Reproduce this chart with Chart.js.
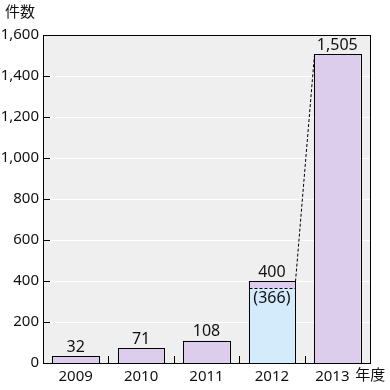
<!DOCTYPE html>
<html>
<head>
<meta charset="utf-8">
<script src="https://cdn.jsdelivr.net/npm/chart.js@4"></script>
<style>
  body { margin: 0; background: #fff; }
  #wrap { width: 390px; height: 390px; }
</style>
</head>
<body>
<div id="wrap"><canvas id="chart" width="390" height="390"></canvas></div>
<script>
const years = ['2009', '2010', '2011', '2012', '2013'];
const baseCounts = [32, 71, 108, 366, 1505];
const extraCounts = [0, 0, 0, 34, 0];
const totals = [32, 71, 108, 400, 1505];
const yTicks = [0, 200, 400, 600, 800, 1000, 1200, 1400, 1600];

const purple = '#dccdec';
const blue = '#d3ebfb';
const fontFam = '"Noto Sans", "Noto Sans CJK JP", sans-serif';

const fmt = v => v.toLocaleString('en-US');
const crisp = v => Math.round(v) + 0.5;

const decor = {
  id: 'decor',
  beforeDraw(chart) {
    const { ctx, chartArea: a, scales: { y } } = chart;
    ctx.save();
    ctx.fillStyle = '#efefef';
    ctx.fillRect(a.left, a.top, a.right - a.left, a.bottom - a.top);
    ctx.strokeStyle = '#fff';
    ctx.lineWidth = 1;
    yTicks.forEach(t => {
      const py = crisp(y.getPixelForValue(t));
      ctx.beginPath(); ctx.moveTo(a.left, py); ctx.lineTo(a.right, py); ctx.stroke();
    });
    ctx.restore();
  },
  afterDatasetsDraw(chart) {
    const { ctx, chartArea: a, scales: { x, y } } = chart;
    const base = chart.getDatasetMeta(0).data;
    const top = chart.getDatasetMeta(1).data;
    ctx.save();
    ctx.strokeStyle = '#000';
    ctx.lineWidth = 1;
    // bar outlines (crisp)
    base.forEach((b, i) => {
      const h = b.width / 2;
      const l = crisp(b.x - h), r = crisp(b.x + h);
      const ty = crisp(y.getPixelForValue(totals[i]));
      const by = crisp(b.base);
      ctx.strokeRect(l, ty, r - l, by - ty);
    });
    // frame
    ctx.strokeRect(crisp(a.left), crisp(a.top), Math.round(a.right - a.left), Math.round(a.bottom - a.top));
    // y ticks inside
    yTicks.forEach(t => {
      const py = crisp(y.getPixelForValue(t));
      ctx.beginPath(); ctx.moveTo(a.left, py); ctx.lineTo(a.left + 7, py); ctx.stroke();
    });
    // x ticks at category boundaries
    for (let i = 1; i < years.length; i++) {
      const px = crisp((x.getPixelForValue(i - 1) + x.getPixelForValue(i)) / 2);
      ctx.beginPath(); ctx.moveTo(px, a.bottom); ctx.lineTo(px, a.bottom - 7); ctx.stroke();
    }
    // dashed split inside 2012 bar
    const b3 = base[3];
    const half = b3.width / 2;
    ctx.setLineDash([3, 2]);
    ctx.beginPath();
    ctx.moveTo(crisp(b3.x - half), crisp(b3.y));
    ctx.lineTo(crisp(b3.x + half), crisp(b3.y));
    ctx.stroke();
    // dashed connector 2012 top-right -> 2013 top-left
    const t3 = top[3];
    const b4 = base[4];
    ctx.beginPath();
    ctx.moveTo(crisp(t3.x + half), crisp(t3.y));
    ctx.lineTo(crisp(b4.x - b4.width / 2), crisp(b4.y));
    ctx.stroke();
    ctx.setLineDash([]);

    ctx.fillStyle = '#111';
    // y tick labels
    ctx.font = '15px ' + fontFam;
    ctx.textAlign = 'right';
    ctx.textBaseline = 'middle';
    yTicks.forEach(t => ctx.fillText(fmt(t), a.left - 4, y.getPixelForValue(t)));
    // x tick labels
    ctx.textAlign = 'center';
    years.forEach((lab, i) => {
      const px = x.getPixelForValue(i) - (i === years.length - 1 ? 5 : 0);
      ctx.fillText(lab, px, 377);
    });
    ctx.textAlign = 'left';
    ctx.fillText('年度', x.getPixelForValue(4) + 18, 376);
    ctx.fillText('件数', 5, 13);
    // value labels
    ctx.font = '16px ' + fontFam;
    ctx.textAlign = 'center';
    ctx.textBaseline = 'bottom';
    totals.forEach((v, i) => {
      ctx.fillText(fmt(v), x.getPixelForValue(i), y.getPixelForValue(v) - 1);
    });
    ctx.textBaseline = 'top';
    ctx.fillText('(' + baseCounts[3] + ')', b3.x, b3.y + 2);
    ctx.restore();
  }
};

new Chart(document.getElementById('chart').getContext('2d'), {
  type: 'bar',
  data: {
    labels: years,
    datasets: [{
      data: baseCounts,
      backgroundColor: ctx => ctx.dataIndex === 3 ? blue : purple,
      borderWidth: 0,
      categoryPercentage: 1,
      barPercentage: 0.71
    }, {
      data: extraCounts,
      backgroundColor: purple,
      borderWidth: 0,
      categoryPercentage: 1,
      barPercentage: 0.71
    }]
  },
  options: {
    responsive: false,
    animation: false,
    layout: { padding: { left: 0, right: 20, top: 35, bottom: 0 } },
    plugins: { legend: { display: false }, tooltip: { enabled: false } },
    scales: {
      x: {
        stacked: true,
        grid: { display: false },
        border: { display: false },
        ticks: { display: false },
        afterFit: s => { s.height = 27; }
      },
      y: {
        stacked: true,
        min: 0,
        max: 1600,
        afterBuildTicks: s => { s.ticks = yTicks.map(v => ({ value: v })); },
        grid: { display: false },
        border: { display: false },
        ticks: { display: false },
        afterFit: s => { s.width = 43; }
      }
    }
  },
  plugins: [decor]
});
</script>
</body>
</html>
